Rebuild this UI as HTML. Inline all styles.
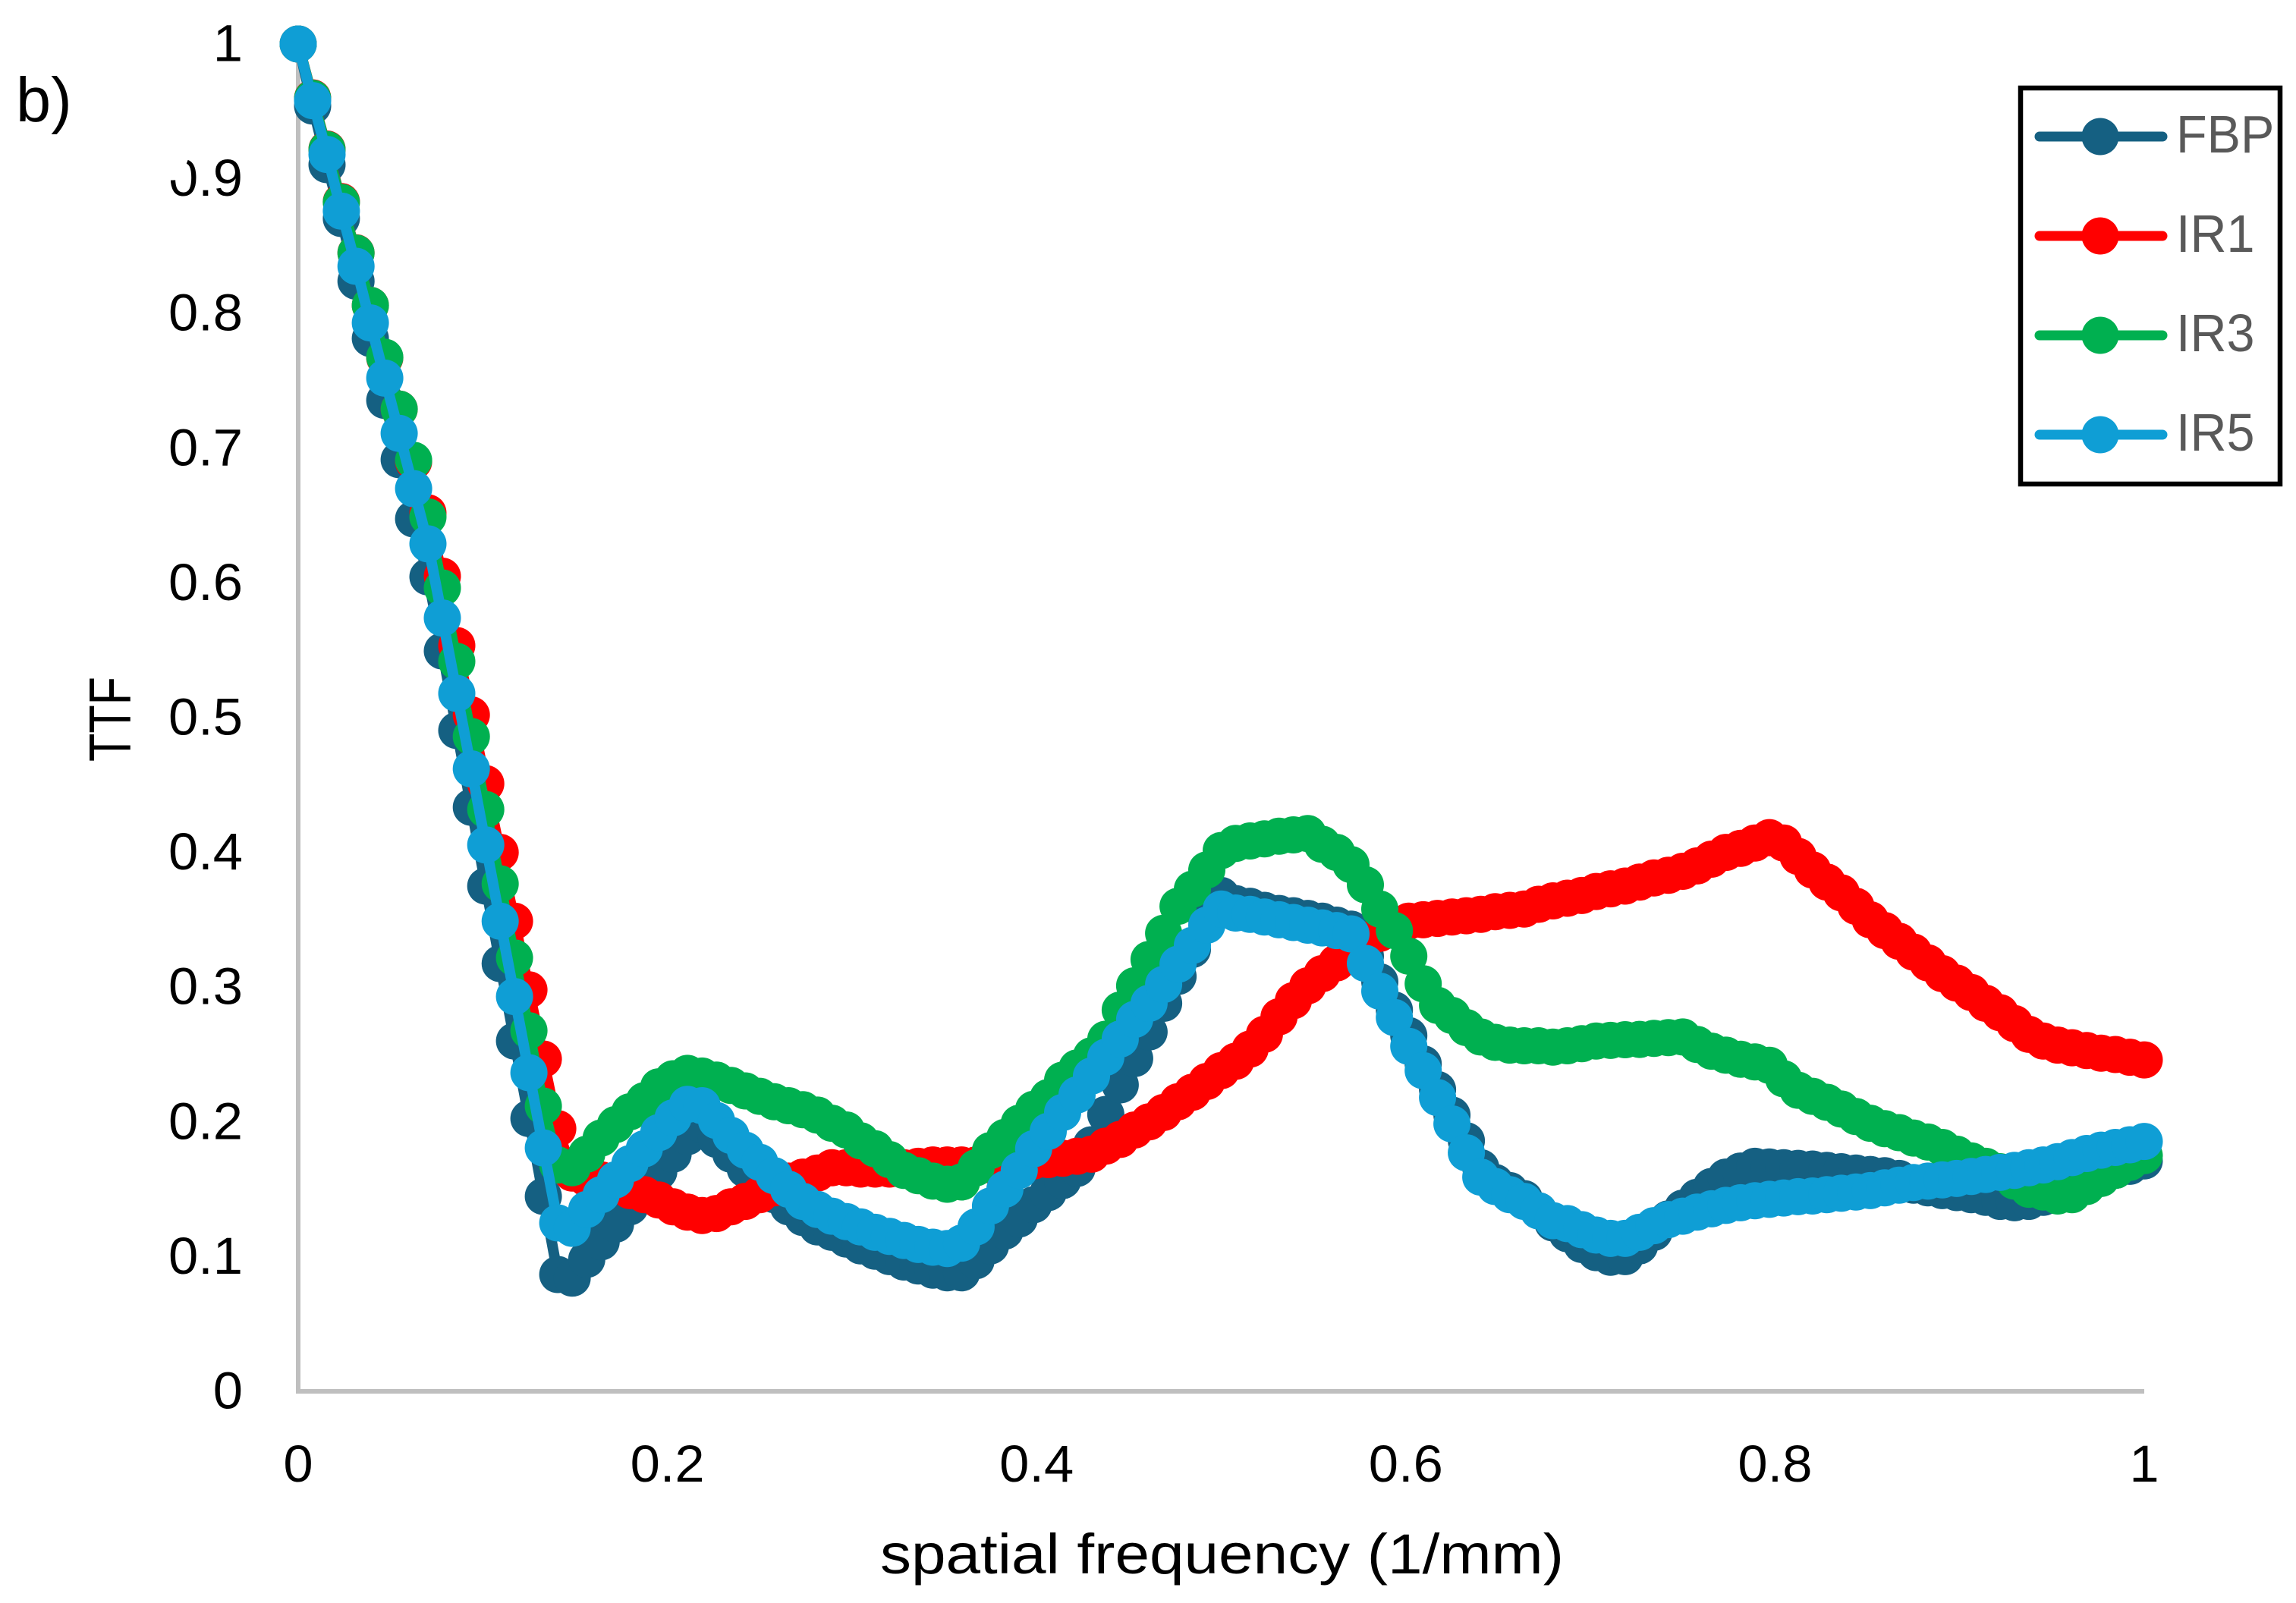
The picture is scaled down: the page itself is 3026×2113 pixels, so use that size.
<!DOCTYPE html>
<html lang="en">
<head>
<meta charset="utf-8">
<title>TTF vs spatial frequency</title>
<style>
html,body{margin:0;padding:0;background:#fff;width:3026px;height:2113px;overflow:hidden}
svg{display:block}
text{font-family:"Liberation Sans",Arial,sans-serif}
</style>
</head>
<body>
<svg id="chart" xmlns="http://www.w3.org/2000/svg" width="3026" height="2113" viewBox="0 0 3026 2113">
<rect width="3026" height="2113" fill="#fff"/>
<g id="axes"></g>
<g id="plot"></g>
<polygon points="215,205 250,205 246,215 241,237 215,238" fill="#fff"/>
<text x="21" y="160" font-size="83" fill="#000">b)</text>
<text transform="translate(172,1004) rotate(-90)" font-size="78" fill="#000" textLength="112" lengthAdjust="spacingAndGlyphs">TTF</text>
<text x="1160" y="2074" font-size="74" fill="#000" textLength="901" lengthAdjust="spacingAndGlyphs">spatial frequency (1/mm)</text>
<g>
<rect x="2663" y="116" width="342" height="522" fill="#fff" stroke="#000" stroke-width="6.5"/>
<g id="legend-entries"></g>
</g>
</svg>
<script>
const frequencies = [
0,.0078,.0156,.0234,.0313,.0391,.0469,.0547,
.0625,.0703,.0781,.0859,.0938,.1016,.1094,.1172,
.125,.1328,.1406,.1484,.1563,.1641,.1719,.1797,
.1875,.1953,.2031,.2109,.2188,.2266,.2344,.2422,
.25,.2578,.2656,.2734,.2813,.2891,.2969,.3047,
.3125,.3203,.3281,.3359,.3438,.3516,.3594,.3672,
.375,.3828,.3906,.3984,.4063,.4141,.4219,.4297,
.4375,.4453,.4531,.4609,.4688,.4766,.4844,.4922,
.5,.5078,.5156,.5234,.5313,.5391,.5469,.5547,
.5625,.5703,.5781,.5859,.5938,.6016,.6094,.6172,
.625,.6328,.6406,.6484,.6563,.6641,.6719,.6797,
.6875,.6953,.7031,.7109,.7188,.7266,.7344,.7422,
.75,.7578,.7656,.7734,.7813,.7891,.7969,.8047,
.8125,.8203,.8281,.8359,.8438,.8516,.8594,.8672,
.875,.8828,.8906,.8984,.9063,.9141,.9219,.9297,
.9375,.9453,.9531,.9609,.9688,.9766,.9844,.9922,
1];
const fbpValues = [
1,.954,.9105,.8705,.824,.7815,.7355,.6915,.6475,.6045,
.5495,.4905,.4335,.375,.3175,.26,.2025,.1447,.0867,.084,
.098,.111,.124,.137,.15,.163,.176,.189,.198,.187,
.176,.165,.155,.146,.137,.129,.122,.118,.113,.108,
.104,.1,.096,.093,.09,.088,.088,.097,.108,.119,
.128,.1385,.1475,.1565,.1655,.183,.2055,.2275,.247,.2667,
.288,.308,.328,.35,.368,.362,.36,.357,.3547,.353,
.351,.349,.346,.343,.323,.304,.283,.264,.243,.224,
.205,.186,.166,.155,.149,.143,.134,.125,.117,.109,
.103,.0995,.1,.108,.118,.128,.136,.144,.152,.159,
.1635,.167,.1665,.166,.1655,.165,.164,.163,.162,.161,
.16,.158,.153,.151,.149,.1475,.146,.144,.141,.14,
.141,.144,.148,.152,.156,.16,.164,.167,.171];
const ir1Values = [
1,.96,.922,.883,.845,.806,.767,.729,.69,.652,
.605,.5535,.502,.451,.4,.349,.298,.2466,.195,.162,
.158,.157,.153,.149,.146,.142,.137,.133,.1305,.132,
.137,.141,.146,.151,.156,.159,.162,.166,.166,.165,
.165,.165,.166,.167,.168,.168,.168,.168,.168,.169,
.17,.171,.172,.173,.1745,.176,.182,.187,.194,.2,
.207,.215,.222,.23,.238,.245,.254,.265,.278,.29,
.301,.31,.318,.325,.334,.34,.345,.349,.35,.351,
.352,.353,.354,.356,.357,.358,.3615,.364,.366,.368,
.371,.373,.375,.378,.381,.383,.386,.39,.395,.4,
.403,.407,.411,.407,.397,.387,.378,.37,.36,.35,
.342,.334,.326,.318,.31,.303,.296,.288,.281,.273,
.265,.26,.257,.255,.253,.251,.25,.248,.246];
const ir3Values = [
1,.9597,.9217,.8825,.8448,.806,.7675,.729,.691,.649,
.5963,.5417,.486,.4318,.3767,.3217,.2677,.2117,.168,.166,
.176,.188,.198,.2075,.2157,.226,.232,.236,.234,.231,
.227,.223,.219,.215,.212,.209,.205,.199,.194,.186,
.18,.172,.164,.16,.156,.1537,.1554,.166,.1787,.1885,
.199,.2093,.218,.231,.24,.249,.2613,.283,.301,.3205,
.34,.36,.3727,.387,.4014,.4067,.4085,.41,.412,.413,
.414,.406,.4,.391,.376,.358,.342,.323,.3025,.2865,
.279,.27,.263,.259,.257,.2565,.2565,.2555,.2565,.258,
.26,.2605,.261,.2612,.262,.2625,.263,.2575,.2525,.2495,
.2465,.2445,.242,.232,.2235,.219,.2145,.2095,.204,.199,
.195,.192,.188,.185,.181,.176,.171,.167,.163,.156,
.15,.148,.145,.146,.152,.158,.164,.17,.175];
const ir5Values = [
1,.958,.918,.876,.835,.793,.752,.711,.67,.629,
.574,.518,.462,.4055,.349,.293,.2365,.1807,.125,.121,
.135,.146,.157,.169,.18,.192,.203,.213,.212,.201,
.19,.179,.17,.16,.15,.141,.135,.13,.126,.122,
.118,.115,.112,.109,.107,.106,.11,.122,.1375,.15,
.164,.18,.193,.207,.22,.234,.248,.2615,.276,.288,
.302,.317,.331,.346,.358,.355,.354,.352,.35,.348,
.346,.344,.342,.3395,.3176,.297,.2775,.256,.238,.218,
.1985,.177,.159,.152,.146,.141,.134,.1267,.1245,.12,
.116,.1135,.1135,.118,.123,.1275,.13,.133,.1355,.138,
.14,.1415,.1425,.1435,.1445,.145,.146,.147,.148,.149,
.151,.153,.155,.156,.157,.158,.1595,.161,.1625,.164,
.166,.168,.1705,.1735,.1765,.179,.181,.183,.1855];
const seriesNames = ["FBP","IR1","IR3","IR5"];
const seriesColors = ["#156082","#ff0000","#00b050","#0f9ed5"];
const seriesValues = [fbpValues,ir1Values,ir3Values,ir5Values];
const xTickValues = [0,0.2,0.4,0.6,0.8,1];
const xTickLabels = ["0","0.2","0.4","0.6","0.8","1"];
const yTickValues = [0,0.1,0.2,0.3,0.4,0.5,0.6,0.7,0.8,0.9,1];
const yTickLabels = ["0","0.1","0.2","0.3","0.4","0.5","0.6","0.7","0.8","0.9","1"];

const NS = "http://www.w3.org/2000/svg";
const X0 = 393, X1 = 2826, Y0 = 1834, Y1 = 58;
function xAxis(v){ return X0 + (X1 - X0) * v; }
function yAxis(v){ return Y0 - (Y0 - Y1) * v; }
function make(tag, attrs, parent){
  const el = document.createElementNS(NS, tag);
  for (const k in attrs) el.setAttribute(k, attrs[k]);
  parent.appendChild(el);
  return el;
}
const axes = document.getElementById("axes");
const plot = document.getElementById("plot");
const legendEntries = document.getElementById("legend-entries");

const yLine = make("line", {x1:X0, y1:Y1, x2:X0, y2:Y0+3, stroke:"#bfbfbf", "stroke-width":6}, axes);


const xLine = make("line", {x1:X0-3, y1:Y0, x2:X1, y2:Y0, stroke:"#bfbfbf", "stroke-width":6}, axes);



const TEXT_STRETCH = 1.03;
yTickValues.forEach(function(v, i){
  const t = make("text", {transform:"translate(320," + (yAxis(v) + 22.5) + ") scale(" + TEXT_STRETCH + ",1)", "text-anchor":"end", "font-size":68.5, fill:"#000"}, axes);
  t.textContent = yTickLabels[i];
  
  
});
xTickValues.forEach(function(v, i){
  const t = make("text", {transform:"translate(" + xAxis(v) + ",1953) scale(" + TEXT_STRETCH + ",1)", "text-anchor":"middle", "font-size":68.5, fill:"#000"}, axes);
  t.textContent = xTickLabels[i];
  
  
});

seriesValues.forEach(function(values, s){
  const g = make("g", {}, plot);
  
  
  const pts = values.map(function(v, i){ return xAxis(frequencies[i]).toFixed(1) + "," + yAxis(v).toFixed(1); }).join(" ");
  const line = make("polyline", {points:pts, fill:"none", stroke:seriesColors[s], "stroke-width":14, "stroke-linejoin":"round", "stroke-linecap":"round"}, g);
  
  
  values.forEach(function(v, i){
    const c = make("circle", {cx:xAxis(frequencies[i]).toFixed(1), cy:yAxis(v).toFixed(1), r:24.5, fill:seriesColors[s]}, g);
    
    
  });
});

const legendRowY = [180, 311, 442, 573];
seriesNames.forEach(function(name, s){
  const g = make("g", {}, legendEntries);
  
  
  const y = legendRowY[s];
  const l = make("line", {x1:2688, y1:y, x2:2850, y2:y, stroke:seriesColors[s], "stroke-width":13, "stroke-linecap":"round"}, g);
  
  
  const c = make("circle", {cx:2768, cy:y, r:24.5, fill:seriesColors[s]}, g);
  
  
  const t = make("text", {transform:"translate(2868," + (y+21) + ") scale(0.95,1)", "font-size":70, fill:"#595959"}, g);
  t.textContent = name;
  
  
});
</script>
</body>
</html>
